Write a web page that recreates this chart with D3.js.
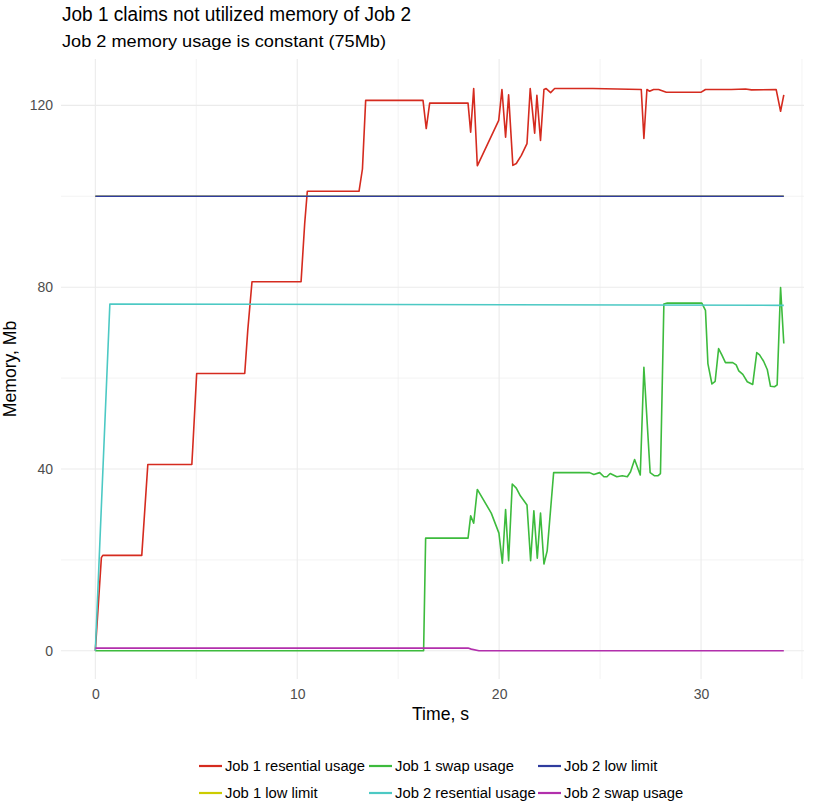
<!DOCTYPE html>
<html>
<head>
<meta charset="utf-8">
<script src="https://cdn.jsdelivr.net/npm/d3@7"></script>
<style>
  body { margin: 0; background: #fff; }
  svg { font-family: "Liberation Sans", Arial, sans-serif; }
</style>
</head>
<body>
<div class="chart"></div>
<script>
// series values (time in s, memory in Mb)
const job1ResT = [0, 0.3, 0.37, 2.3, 2.6, 4.78, 4.83, 5.02, 7.4, 7.55, 7.76, 10.19, 10.37, 10.5, 13.06, 13.23, 13.39,
  16.23, 16.39, 16.56, 18.46, 18.59, 18.74, 18.92, 19.98, 20.14, 20.32, 20.47, 20.68, 20.85, 21.1, 21.38, 21.54,
  21.76, 21.87, 22.05, 22.22, 22.33, 22.55, 22.75, 24.64, 27.04, 27.17, 27.32, 27.45, 27.65, 27.9, 28.28, 30.01,
  30.22, 31.5, 32.2, 32.5, 33.72, 33.94, 34.1]
const job1ResV = [0, 20.5, 21, 21, 41, 41, 45, 61, 61, 70.5, 81.2, 81.2, 94, 101.1, 101.1, 106, 121.1,
  121.1, 114.9, 120.5, 120.5, 114.1, 123.7, 106.7, 116.7, 123.5, 113, 122.3, 106.8, 107.2, 109, 111.6, 123.7,
  113.9, 122.2, 112.3, 123.5, 123.7, 122.8, 123.7, 123.7, 123.5, 112.7, 123.5, 123.1, 123.5, 123.5, 122.9, 122.9,
  123.5, 123.5, 123.6, 123.4, 123.5, 118.7, 122.3]

const job1SwapT = [0, 16.26, 16.36, 18.46, 18.59, 18.74, 18.92, 19.61, 19.99, 20.16, 20.32, 20.47, 20.65, 20.85,
  21.05, 21.38, 21.56, 21.72, 21.89, 22.05, 22.22, 22.38, 22.7, 24.48, 24.69, 24.98, 25.19, 25.34, 25.5, 25.83,
  26.1, 26.35, 26.51, 26.71, 26.99, 27.17, 27.48, 27.7, 27.86, 27.99, 28.16, 28.33, 30.04, 30.22, 30.34, 30.54,
  30.7, 30.87, 31.03, 31.21, 31.57, 31.74, 31.87, 32.07, 32.29, 32.56, 32.76, 32.9, 33.1, 33.28, 33.44, 33.64,
  33.77, 33.94, 34.1]
const job1SwapV = [0, 0, 24.8, 24.8, 29.7, 28.1, 35.5, 30.3, 25.9, 19.3, 31.1, 19.8, 36.7, 35.8,
  34.1, 32.1, 19.8, 30.8, 20.4, 30.3, 19.1, 22.0, 39.2, 39.2, 38.8, 39.2, 38.3, 38.3, 39.0, 38.3,
  38.5, 38.3, 39.4, 42.1, 38.7, 62.4, 39.2, 38.5, 38.5, 39.0, 76.3, 76.5, 76.5, 74.9, 63.2, 58.7,
  59.3, 66.5, 65.1, 63.4, 63.4, 62.9, 61.6, 60.8, 59.2, 58.6, 65.6, 65.1, 63.7, 61.9, 58.2, 58.1,
  58.5, 79.9, 67.6]

const job1LowT = [0, 34.1]
const job1LowV = [100, 100]

const job2ResT = [0, 0.72, 34.1]
const job2ResV = [0, 76.3, 76.0]

const job2LowT = [0, 34.1]
const job2LowV = [100, 100]

const job2SwapT = [0, 18.46, 18.62, 19.0, 34.1]
const job2SwapV = [0.6, 0.6, 0.37, 0, 0]

// legend order (column-wise in the picture) is also drawing order
const seriesNames = ["Job 1 resential usage", "Job 1 low limit", "Job 1 swap usage",
  "Job 2 resential usage", "Job 2 low limit", "Job 2 swap usage"]
const seriesColors = ["#d52b1f", "#cccc00", "#3dbb3d", "#4cc9c4", "#2f3c9e", "#b22fac"]

const xMajor = [0, 10, 20, 30]
const xMinor = [5, 15, 25, 35]
const yMajor = [0, 40, 80, 120]
const yMinor = [20, 60, 100]

const W = 813, H = 805
const panel = {left: 61, right: 804, top: 59, bottom: 679}
// label widths as rendered in the reference
const legendTextLen = [140, 92.7, 119, 140.7, 93.4, 119.3]

const series = [
  [job1ResT, job1ResV], [job1LowT, job1LowV], [job1SwapT, job1SwapV],
  [job2ResT, job2ResV], [job2LowT, job2LowV], [job2SwapT, job2SwapV]
].map((s, i) => ({
  name: seriesNames[i],
  color: seriesColors[i],
  points: s[0].map((t, j) => ({t: t, v: s[1][j]}))
}))

const x = d3.scaleLinear().domain([-1.7, 35.1]).range([panel.left, panel.right])
const y = d3.scaleLinear().domain([-6.2, 130.2]).range([panel.bottom, panel.top])

const svg = d3.select(".chart").append("svg")
  .attr("width", W)
  .attr("height", H)

// grid (theme_minimal look)
const grid = svg.append("g")
grid.selectAll(".xminor").data(xMinor).enter().append("line")
  .attr("x1", d => x(d)).attr("x2", d => x(d))
  .attr("y1", panel.top).attr("y2", panel.bottom)
  .attr("stroke", "#ebebeb").attr("stroke-width", 0.6)
grid.selectAll(".yminor").data(yMinor).enter().append("line")
  .attr("y1", d => y(d)).attr("y2", d => y(d))
  .attr("x1", panel.left).attr("x2", panel.right)
  .attr("stroke", "#ebebeb").attr("stroke-width", 0.6)
grid.selectAll(".xmajor").data(xMajor).enter().append("line")
  .attr("x1", d => x(d)).attr("x2", d => x(d))
  .attr("y1", panel.top).attr("y2", panel.bottom)
  .attr("stroke", "#ebebeb").attr("stroke-width", 1.1)
grid.selectAll(".ymajor").data(yMajor).enter().append("line")
  .attr("y1", d => y(d)).attr("y2", d => y(d))
  .attr("x1", panel.left).attr("x2", panel.right)
  .attr("stroke", "#ebebeb").attr("stroke-width", 1.1)

// axes, no domain lines or ticks, just labels
const xAxis = svg.append("g")
  .attr("transform", `translate(0,${panel.bottom})`)
  .call(d3.axisBottom(x).tickValues(xMajor).tickSize(0).tickPadding(10))
const yAxis = svg.append("g")
  .attr("transform", `translate(${panel.left},0)`)
  .call(d3.axisLeft(y).tickValues(yMajor).tickSize(0).tickPadding(8))
for (const ax of [xAxis, yAxis]) {
  ax.select(".domain").remove()
  ax.selectAll("text")
    .attr("font-family", "Liberation Sans, Arial, sans-serif")
    .attr("font-size", "14px")
    .attr("fill", "#4d4d4d")
}

// lines
const line = d3.line()
  .x(d => x(d.t))
  .y(d => y(d.v))

svg.append("g").selectAll("path")
  .data(series)
  .enter()
  .append("path")
    .attr("d", d => line(d.points))
    .attr("fill", "none")
    .attr("stroke", d => d.color)
    .attr("stroke-width", 1.6)
    .attr("stroke-linejoin", "round")

// titles
svg.append("text")
  .attr("x", 62).attr("y", 21)
  .attr("font-size", "20px")
  .attr("textLength", 349)
  .attr("lengthAdjust", "spacingAndGlyphs")
  .attr("fill", "#000")
  .text("Job 1 claims not utilized memory of Job 2")
svg.append("text")
  .attr("x", 62).attr("y", 47)
  .attr("font-size", "17px")
  .attr("textLength", 324)
  .attr("lengthAdjust", "spacingAndGlyphs")
  .attr("fill", "#000")
  .text("Job 2 memory usage is constant (75Mb)")

svg.append("text")
  .attr("x", 440.5).attr("y", 720)
  .attr("text-anchor", "middle")
  .attr("font-size", "17.6px")
  .text("Time, s")
svg.append("text")
  .attr("transform", `translate(16,369) rotate(-90)`)
  .attr("text-anchor", "middle")
  .attr("font-size", "17.6px")
  .text("Memory, Mb")

// legend, filled column by column in two rows
const colX = [199, 369, 538]
const rowY = [766, 793]
const legend = svg.append("g").selectAll("g")
  .data(series)
  .enter()
  .append("g")
    .attr("transform", (d, i) => `translate(${colX[Math.floor(i / 2)]},${rowY[i % 2]})`)
legend.append("line")
  .attr("x1", 0).attr("x2", 23)
  .attr("stroke", d => d.color)
  .attr("stroke-width", 2.2)
legend.append("text")
  .attr("x", 26).attr("dy", "0.35em")
  .attr("font-size", "14px")
  .attr("textLength", (d, i) => legendTextLen[i])
  .attr("lengthAdjust", "spacingAndGlyphs")
  .attr("fill", "#000")
  .text(d => d.name)
</script>
</body>
</html>
